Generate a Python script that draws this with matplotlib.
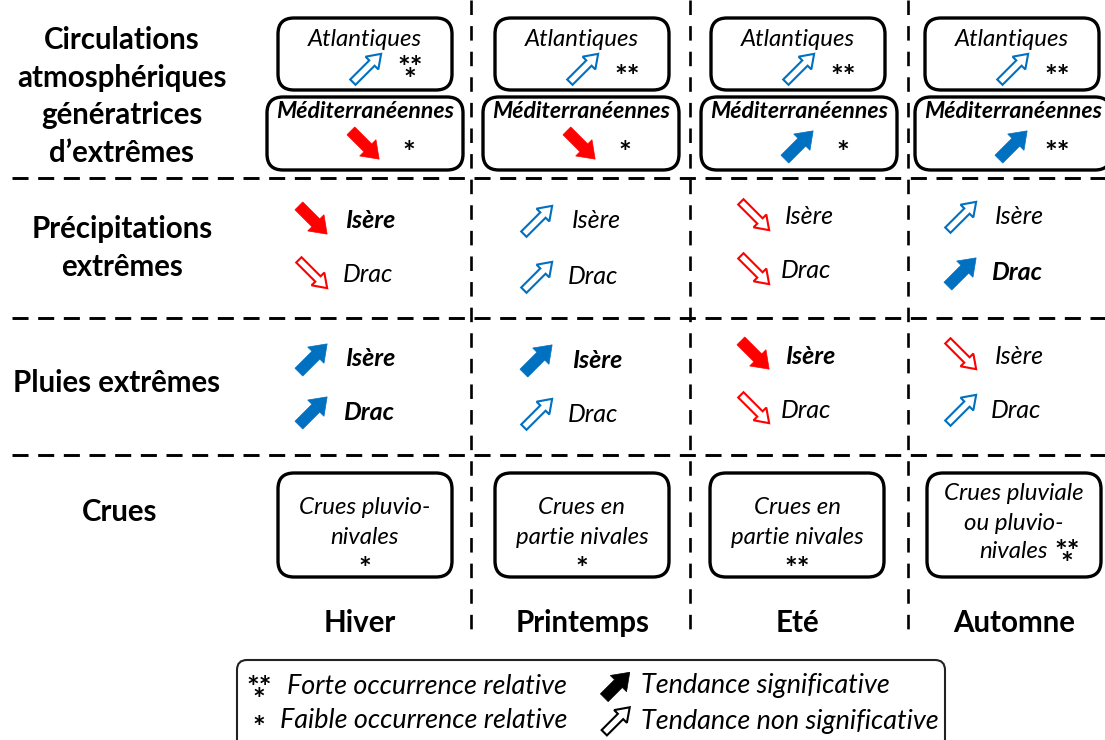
import matplotlib
matplotlib.use("Agg")
import matplotlib.pyplot as plt
from matplotlib.patches import FancyArrow, FancyBboxPatch
import numpy as np

W, H = 1105, 740
FONT = "Lato"
plt.rcParams['font.family'] = [FONT, 'DejaVu Sans']

# ---------------- data ----------------
seasons = ["Hiver", "Printemps", "Eté", "Automne"]
row_labels = [["Circulations", "atmosphériques", "génératrices", "d’extrêmes"],
              ["Précipitations", "extrêmes"],
              ["Pluies extrêmes"],
              ["Crues"]]

atl_label = "Atlantiques"
atl_trend = ["up", "up", "up", "up"]
atl_sig = [False, False, False, False]
atl_occ = ["***", "**", "**", "**"]          # "***" = ** over *

med_label = "Méditerranéennes"
med_trend = ["down", "down", "up", "up"]
med_sig = [True, True, True, True]
med_occ = ["*", "*", "*", "**"]

stations = ["Isère", "Drac"]
precip_trend = {"Isère": ["down", "up", "down", "up"],
                "Drac": ["down", "up", "down", "up"]}
precip_sig = {"Isère": [True, False, False, False],
              "Drac": [False, False, False, True]}
pluie_trend = {"Isère": ["up", "up", "down", "down"],
               "Drac": ["up", "up", "down", "up"]}
pluie_sig = {"Isère": [True, True, True, False],
             "Drac": [True, False, False, False]}

crues_text = [["Crues pluvio-", "nivales"],
              ["Crues en", "partie nivales"],
              ["Crues en", "partie nivales"],
              ["Crues pluviale", "ou pluvio-", "nivales"]]
crues_occ = ["*", "*", "**", "***"]

legend_occ = [("***", "Forte occurrence relative"), ("*", "Faible occurrence relative")]
legend_arrows = [(True, "Tendance significative"), (False, "Tendance non significative")]

# ---------------- layout ----------------
BLUE = "#0070C0"
RED = "#FF0000"
PX = 72.0 / 100.0   # px -> pt

fig = plt.figure(figsize=(W / 100, H / 100), dpi=100)
ax = fig.add_axes([0, 0, 1, 1])
ax.set_xlim(0, W)
ax.set_ylim(H, 0)
ax.axis("off")

def txt(x, y, s, size_px, bold=False, italic=False, ha="center", va="center",
        color="black", **kw):
    ax.text(x, y, s, fontsize=size_px * PX, fontweight="bold" if bold else "normal",
            fontstyle="italic" if italic else "normal", ha=ha, va=va, color=color, **kw)

def arrow(cx, cy, direction, sig, color=None, L=40):
    if color is None:
        color = BLUE if direction == "up" else RED
    u = np.array([1.0, -1.0]) / np.sqrt(2) if direction == "up" else np.array([1.0, 1.0]) / np.sqrt(2)
    tail = np.array([cx, cy]) - u * L / 2
    if sig:
        p = FancyArrow(tail[0], tail[1], u[0] * L, u[1] * L, width=11, head_width=23,
                       head_length=16, length_includes_head=True, fc=color, ec=color, lw=0.5)
    else:
        p = FancyArrow(tail[0], tail[1], u[0] * L, u[1] * L, width=7.5, head_width=18,
                       head_length=13, length_includes_head=True, fc="white", ec=color, lw=1.5)
    ax.add_patch(p)

def stars(x, y, occ, size_px=30):
    if occ == "***":
        txt(x, y + 12, "**\n*", size_px, bold=True, va="center", linespacing=0.32)
    else:
        txt(x, y + 14, occ, size_px, bold=True, va="center")

def rbox(x0, y0, x1, y1, lw=2.4, r=16, ec="black"):
    ax.add_patch(FancyBboxPatch((x0, y0), x1 - x0, y1 - y0,
                                boxstyle=f"round,pad=0,rounding_size={r}",
                                fc="white", ec=ec, lw=lw, zorder=1))

# grid lines
for y in [178, 318, 455]:
    ax.plot([12, W], [y, y], color="black", lw=2.1, ls=(0, (5.5, 3.3)), zorder=0)
for x in [471, 690, 908]:
    ax.plot([x, x], [0, 632], color="black", lw=1.9, ls=(0, (5.5, 4.2)), zorder=0)

# row labels
HEAD = 29.5
for i, line in enumerate(row_labels[0]):
    txt(122, 40 + i * 37.5, line, HEAD, bold=True)
for i, line in enumerate(row_labels[1]):
    txt(122, 229 + i * 38, line, HEAD, bold=True)
txt(117, 383, row_labels[2][0], HEAD, bold=True)
txt(120, 512, row_labels[3][0], HEAD, bold=True)

# season labels
season_x = [360, 583, 797, 1014]
for x, s in zip(season_x, seasons):
    txt(x, 623, s, HEAD, bold=True)

BODY = 24
STN = 25

# circulation boxes
atl_cx = [365, 582, 798, 1012]
med_cx = [365, 581, 799, 1013]
for i in range(4):
    rbox(atl_cx[i] - 87, 18, atl_cx[i] + 87, 90)
    txt(atl_cx[i], 39, atl_label, BODY, italic=True)
    arrow(atl_cx[i] + 2, 68, atl_trend[i], atl_sig[i])
    stars(atl_cx[i] + 45, 63 if atl_occ[i] == "***" else 64, atl_occ[i])

    rbox(med_cx[i] - 98, 97, med_cx[i] + 98, 170)
    txt(med_cx[i], 112, med_label, 23, bold=True, italic=True)
    arrow(med_cx[i], 145, med_trend[i], med_sig[i])
    stars(med_cx[i] + 44, 140, med_occ[i])

# precipitation & rain rows
arrow_x = [313, 538, 755, 962]
text_x = [[345, 572, 785, 995], [343, 568, 781, 991]]
precip_y = [[220, 220, 216, 216], [274, 276, 270, 272]]
pluie_y = [[358, 359, 355, 355], [411, 413, 409, 409]]
for i in range(4):
    for k, st in enumerate(stations):
        y = precip_y[k][i]
        arrow(arrow_x[i], y, precip_trend[st][i], precip_sig[st][i])
        txt(text_x[k][i], y + 1, st, STN, bold=precip_sig[st][i], italic=True, ha="left")
        y = pluie_y[k][i]
        arrow(arrow_x[i], y, pluie_trend[st][i], pluie_sig[st][i])
        txt(text_x[k][i], y + 1, st, STN, bold=pluie_sig[st][i], italic=True, ha="left")

# crues boxes
crue_cx = [365, 582, 797, 1014]
for i in range(4):
    rbox(crue_cx[i] - 87, 473, crue_cx[i] + 87, 577)
    lines = crues_text[i]
    if len(lines) == 2:
        for j, l in enumerate(lines):
            txt(crue_cx[i], 507 + j * 30, l, BODY, italic=True)
        stars(crue_cx[i], 556, crues_occ[i])
    else:
        for j, l in enumerate(lines):
            txt(crue_cx[i], 494 + j * 29, l, BODY, italic=True)
        stars(crue_cx[i] + 53, 547, crues_occ[i])

# legend
LEG = 27
rbox(237, 660, 945, 770, lw=1.5, r=10, ec="#222222")
for j, (occ, lab) in enumerate(legend_occ):
    y = 686 + j * 35
    stars(259, 683 if j == 0 else 715, occ)
    txt(287 if j == 0 else 280, y, lab, LEG, italic=True, ha="left")
for j, (sig, lab) in enumerate(legend_arrows):
    y = 685 + j * 35
    arrow(617, y, "up", sig, color="black", L=36)
    txt(641, y + 1, lab, LEG, italic=True, ha="left")

fig.savefig("out.png", dpi=100)
